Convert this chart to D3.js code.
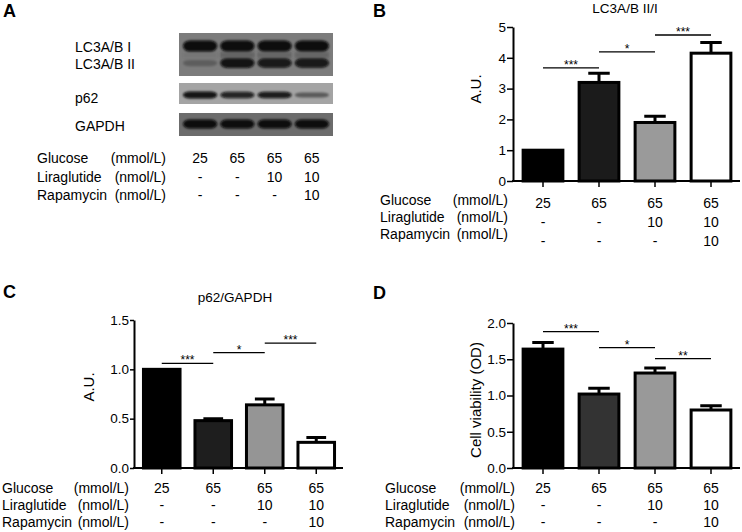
<!DOCTYPE html>
<html>
<head>
<meta charset="utf-8">
<script src="https://cdn.jsdelivr.net/npm/d3@7"></script>
<style>
body { margin: 0; background: #fff; }
svg { display: block; font-family: "Liberation Sans", Arial, sans-serif; }
</style>
</head>
<body>
<script>
const conditions = ["G25", "G65", "G65+Lira", "G65+Lira+Rapa"];
const glucose = ["25", "65", "65", "65"];
const liraglutide = ["-", "-", "10", "10"];
const rapamycin = ["-", "-", "-", "10"];
const rowNames = ["Glucose", "Liraglutide", "Rapamycin"];
const rowUnits = ["(mmol/L)", "(nmol/L)", "(nmol/L)"];

// western blot: band strength per lane, 0..1
const blotLabels = ["LC3A/B I", "LC3A/B II", "p62", "GAPDH"];
const lc3iBand = [1, 1, 1, 1];
const lc3iiBand = [0.25, 0.95, 0.9, 0.9];
const p62Band = [0.95, 0.85, 0.9, 0.45];
const gapdhBand = [1, 1, 1, 1];

// quantification (mean, error)
const lc3Ratio = [1.0, 3.2, 1.9, 4.15];
const lc3Err = [0, 0.3, 0.2, 0.35];
const p62Ratio = [1.0, 0.48, 0.64, 0.26];
const p62Err = [0, 0.02, 0.06, 0.05];
const viability = [1.64, 1.02, 1.31, 0.80];
const viabilityErr = [0.09, 0.08, 0.07, 0.06];

// significance brackets: [from, to, level, stars]
const lc3Sig = [[0, 1, 3.67, "***"], [1, 2, 4.19, "*"], [2, 3, 4.74, "***"]];
const p62Sig = [[0, 1, 1.06, "***"], [1, 2, 1.17, "*"], [2, 3, 1.265, "***"]];
const viabilitySig = [[0, 1, 1.88, "***"], [1, 2, 1.66, "*"], [2, 3, 1.51, "**"]];

const width = 742, height = 532;
const svg = d3.select("body").append("svg")
    .attr("width", width)
    .attr("height", height);

const defs = svg.append("defs");
defs.append("filter").attr("id", "blur")
    .attr("x", "-20%").attr("y", "-50%").attr("width", "140%").attr("height", "200%")
    .append("feGaussianBlur").attr("stdDeviation", 1.3);

function panelLetter(letter, x, y) {
    svg.append("text")
        .attr("x", x).attr("y", y)
        .attr("font-size", 18)
        .attr("font-weight", "bold")
        .text(letter);
}

function table(x, xLabel, unitEnd, labelBase, valueBase) {
    const rows = [glucose, liraglutide, rapamycin];
    const g = svg.append("g").attr("font-size", 14).attr("fill", "#000");
    rows.forEach((vals, i) => {
        g.append("text").attr("x", xLabel).attr("y", labelBase[i]).text(rowNames[i]);
        g.append("text").attr("x", unitEnd).attr("y", labelBase[i])
            .attr("text-anchor", "end").text(rowUnits[i]);
        g.selectAll(null)
            .data(vals)
            .join("text")
            .attr("x", (d, j) => x(conditions[j]) + x.bandwidth() / 2)
            .attr("y", valueBase[i])
            .attr("text-anchor", "middle")
            .text(d => d);
    });
}

// ---- A: western blot ----
panelLetter("A", 3, 17);

const lane = d3.scaleBand()
    .domain(conditions)
    .range([180, 332])
    .padding(0.08);

const strips = [
    {y: 33, h: 43, bg: "#7c7c7c", bands: [[lc3iBand, 46, 11], [lc3iiBand, 63, 10]]},
    {y: 83, h: 21, bg: "#a4a4a4", bands: [[p62Band, 95, 7]]},
    {y: 113, h: 23, bg: "#6c6c6c", bands: [[gapdhBand, 124, 9]]}
];

strips.forEach(s => {
    svg.append("rect")
        .attr("x", 179).attr("y", s.y)
        .attr("width", 154).attr("height", s.h)
        .attr("fill", s.bg);
    s.bands.forEach(([vals, cy, bh]) => {
        svg.append("g")
            .attr("filter", "url(#blur)")
            .selectAll("rect")
            .data(vals)
            .join("rect")
            .attr("x", (d, i) => lane(conditions[i]))
            .attr("width", lane.bandwidth())
            .attr("y", d => cy - bh * (0.5 + 0.5 * d) / 2)
            .attr("height", d => bh * (0.5 + 0.5 * d))
            .attr("rx", 7)
            .attr("fill", "#080808")
            .attr("opacity", d => d);
    });
});

// faint smear between LC3 I and II
svg.append("g")
    .attr("filter", "url(#blur)")
    .selectAll("rect")
    .data(lc3iiBand)
    .join("rect")
    .attr("x", (d, i) => lane(conditions[i]))
    .attr("width", lane.bandwidth())
    .attr("y", 52).attr("height", 6)
    .attr("fill", "#333")
    .attr("opacity", d => d * 0.35);

svg.append("g").attr("font-size", 14)
    .selectAll("text")
    .data(blotLabels)
    .join("text")
    .attr("x", 75)
    .attr("y", (d, i) => [52, 69, 103, 131][i])
    .text(d => d);

table(lane, 37, 166, [163, 182, 200], [163, 182, 200]);

// ---- bar chart panels ----
function barPanel(o) {
    const x = d3.scaleBand()
        .domain(conditions)
        .range(o.xRange)
        .paddingInner(0.29)
        .paddingOuter(0.145);
    const y = d3.scaleLinear().domain(o.domain).range(o.yRange);
    const g = svg.append("g");

    // bars
    g.selectAll("rect")
        .data(o.values)
        .join("rect")
        .attr("x", (d, i) => x(conditions[i]))
        .attr("width", x.bandwidth())
        .attr("y", d => y(d))
        .attr("height", d => y(0) - y(d))
        .attr("fill", (d, i) => o.fills[i])
        .attr("stroke", "#000")
        .attr("stroke-width", 3);

    // error bars (upper only)
    const cap = x.bandwidth() * 0.27;
    o.values.forEach((v, i) => {
        const e = o.errors[i];
        if (!e) return;
        const cx = x(conditions[i]) + x.bandwidth() / 2;
        g.append("path")
            .attr("d", `M${cx},${y(v)}V${y(v + e)}M${cx - cap},${y(v + e)}H${cx + cap}`)
            .attr("stroke", "#000")
            .attr("stroke-width", 3)
            .attr("fill", "none");
    });

    // y axis
    const ya = g.append("g")
        .attr("transform", `translate(${o.xRange[0] - 2},0)`)
        .call(d3.axisLeft(y).tickValues(o.ticks).tickFormat(d3.format(o.fmt))
            .tickSize(o.tickSize).tickSizeOuter(0).tickPadding(1));
    ya.select(".domain").attr("stroke-width", 2);
    ya.selectAll(".tick line").attr("stroke-width", 1.5);
    ya.selectAll("text").attr("font-size", 13.5).attr("fill", "#000")
        .attr("font-family", "'Liberation Sans', Arial, sans-serif");

    // x axis
    g.append("line")
        .attr("x1", o.xRange[0] - 3).attr("x2", o.xRange[1] + 1)
        .attr("y1", y(0)).attr("y2", y(0))
        .attr("stroke", "#000").attr("stroke-width", 2);
    g.selectAll(".xtick")
        .data(conditions)
        .join("line")
        .attr("x1", d => x(d) + x.bandwidth() / 2)
        .attr("x2", d => x(d) + x.bandwidth() / 2)
        .attr("y1", y(0)).attr("y2", y(0) + 6)
        .attr("stroke", "#000").attr("stroke-width", 1.5);

    // significance
    o.sig.forEach(([a, b, lvl, stars]) => {
        const xa = x(conditions[a]) + x.bandwidth() / 2;
        const xb = x(conditions[b]) + x.bandwidth() / 2;
        g.append("line")
            .attr("x1", xa).attr("x2", xb)
            .attr("y1", y(lvl)).attr("y2", y(lvl))
            .attr("stroke", "#000").attr("stroke-width", 1.3);
        g.append("text")
            .attr("x", (xa + xb) / 2).attr("y", y(lvl) + 1)
            .attr("text-anchor", "middle")
            .attr("font-size", 12)
            .text(stars);
    });

    // y label
    g.append("text")
        .attr("transform", `translate(${o.ylabelPos[0]},${o.ylabelPos[1]}) rotate(-90)`)
        .attr("dy", "0.35em")
        .attr("text-anchor", "middle")
        .attr("font-size", 15)
        .text(o.ylabel);

    if (o.title) {
        g.append("text")
            .attr("x", o.titlePos[0]).attr("y", o.titlePos[1])
            .attr("text-anchor", "middle")
            .attr("font-size", 13.5)
            .text(o.title);
    }
    return x;
}

// ---- B ----
panelLetter("B", 373, 17);
const xB = barPanel({
    xRange: [515, 739], domain: [0, 5], yRange: [181, 27],
    ticks: [0, 1, 2, 3, 4, 5], fmt: "d", tickSize: 6,
    values: lc3Ratio, errors: lc3Err, sig: lc3Sig,
    fills: ["#000", "#1b1b1b", "#9a9a9a", "#fff"],
    ylabel: "A.U.", ylabelPos: [476, 89],
    title: "LC3A/B II/I", titlePos: [625, 13]
});
table(xB, 380, 508, [205, 222, 239], [208, 227, 246]);

// ---- C ----
panelLetter("C", 3, 298);
const xC = barPanel({
    xRange: [136, 342], domain: [0, 1.5], yRange: [468, 320],
    ticks: [0, 0.5, 1, 1.5], fmt: ".1f", tickSize: 4,
    values: p62Ratio, errors: p62Err, sig: p62Sig,
    fills: ["#000", "#1e1e1e", "#959595", "#fff"],
    ylabel: "A.U.", ylabelPos: [89, 387],
    title: "p62/GAPDH", titlePos: [235, 302]
});
table(xC, 2, 129, [493, 510, 527], [493, 510, 527]);

// ---- D ----
panelLetter("D", 373, 299);
const xD = barPanel({
    xRange: [515, 739], domain: [0, 2], yRange: [468, 323],
    ticks: [0, 0.5, 1, 1.5, 2], fmt: ".1f", tickSize: 6,
    values: viability, errors: viabilityErr, sig: viabilitySig,
    fills: ["#000", "#333", "#999", "#fff"],
    ylabel: "Cell viability (OD)", ylabelPos: [476, 400]
});
table(xD, 385, 515, [493, 510, 527], [493, 510, 527]);
</script>
</body>
</html>
